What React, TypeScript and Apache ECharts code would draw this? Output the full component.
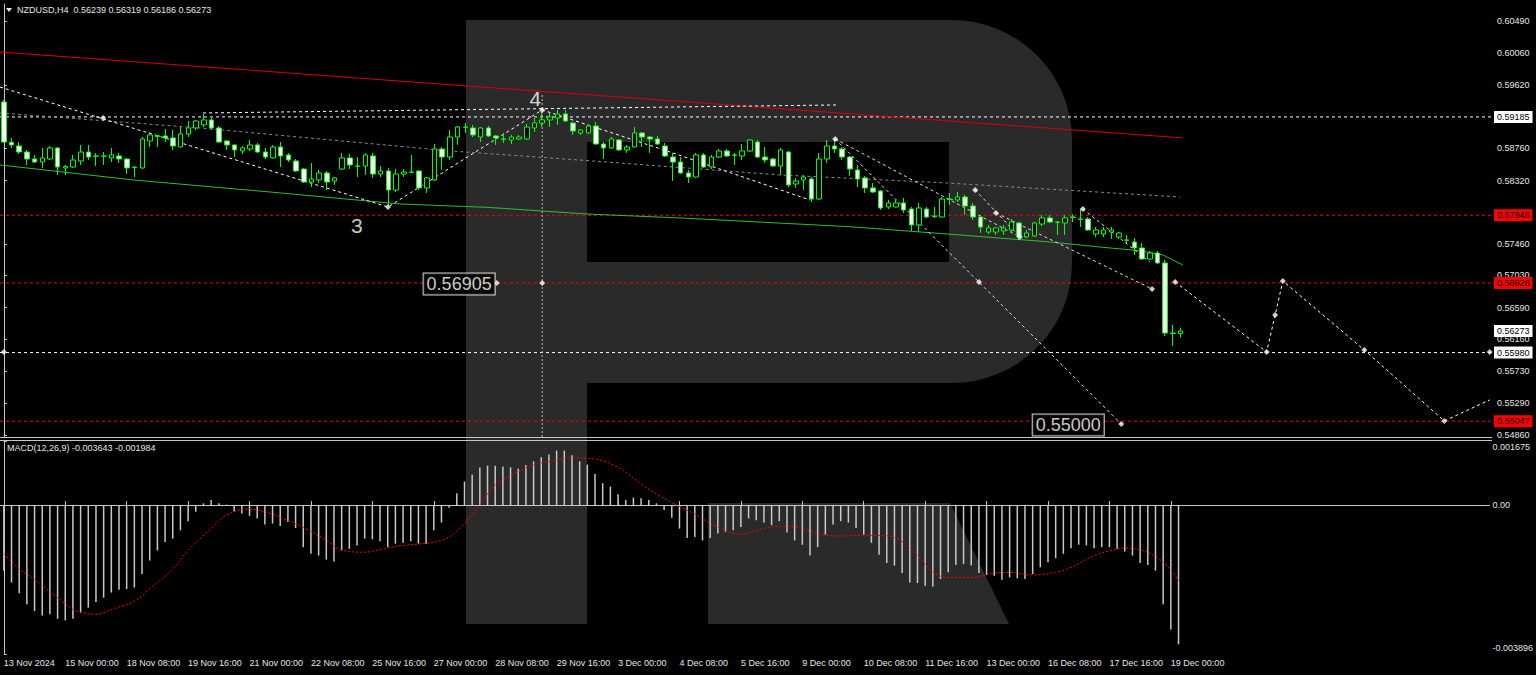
import React, { useEffect, useRef } from 'react';
import * as echarts from 'echarts';

// ---- Candles (NZDUSD H4), index 0 = 13 Nov 2024 16:00 ----
const opens = [0.59388,0.58840,0.58790,0.58708,0.58613,0.58572,0.58613,0.58763,0.58491,0.58504,
0.58586,0.58708,0.58654,0.58650,0.58627,0.58654,0.58613,0.58504,0.58491,0.58858,
0.58930,0.58926,0.58899,0.58776,0.58953,0.59035,0.59076,0.59144,0.59035,0.58858,
0.58804,0.58722,0.58749,0.58804,0.58708,0.58627,0.58776,0.58668,0.58586,0.58477,
0.58300,0.58328,0.58423,0.58314,0.58477,0.58627,0.58518,0.58518,0.58654,0.58409,
0.58450,0.58192,0.58409,0.58436,0.58450,0.58219,0.58328,0.58749,0.58640,0.58912,
0.59048,0.59035,0.58912,0.59035,0.58926,0.58885,0.58872,0.58885,0.58885,0.59035,
0.59103,0.59144,0.59171,0.59225,0.59103,0.58967,0.58967,0.59062,0.58817,0.58763,
0.58872,0.58736,0.58776,0.58967,0.58912,0.58885,0.58790,0.58640,0.58572,0.58423,
0.58368,0.58668,0.58504,0.58640,0.58722,0.58668,0.58654,0.58722,0.58844,0.58640,
0.58613,0.58518,0.58708,0.58273,0.58328,0.58341,0.58069,0.58613,0.58790,0.58749,
0.58640,0.58464,0.58355,0.58219,0.58178,0.57960,0.57960,0.58015,0.57933,0.57716,
0.57933,0.57838,0.57824,0.58069,0.58056,0.58096,0.57974,0.57824,0.57620,0.57620,
0.57634,0.57648,0.57743,0.57552,0.57566,0.57729,0.57811,0.57756,0.57743,0.57824,
0.57797,0.57797,0.57593,0.57593,0.57620,0.57552,0.57512,0.57484,0.57403,0.57253,
0.57335,0.57199,0.56245,0.56239];
const closes = [0.58844,0.58804,0.58708,0.58613,0.58572,0.58627,0.58763,0.58504,0.58510,0.58600,
0.58708,0.58640,0.58650,0.58654,0.58668,0.58613,0.58491,0.58496,0.58885,0.58940,
0.58920,0.58899,0.58790,0.58953,0.59035,0.59130,0.59144,0.59035,0.58844,0.58804,
0.58736,0.58763,0.58804,0.58708,0.58640,0.58776,0.58654,0.58600,0.58450,0.58300,
0.58341,0.58423,0.58300,0.58355,0.58627,0.58532,0.58515,0.58668,0.58409,0.58450,
0.58192,0.58409,0.58436,0.58432,0.58219,0.58355,0.58749,0.58640,0.58912,0.59048,
0.59045,0.58940,0.59035,0.58926,0.58899,0.58880,0.58912,0.58912,0.59048,0.59103,
0.59144,0.59184,0.59225,0.59130,0.58994,0.59008,0.59062,0.58817,0.58763,0.58885,
0.58736,0.58776,0.58967,0.58912,0.58885,0.58817,0.58654,0.58572,0.58423,0.58368,
0.58668,0.58504,0.58640,0.58722,0.58654,0.58664,0.58722,0.58872,0.58640,0.58600,
0.58518,0.58736,0.58260,0.58314,0.58368,0.58069,0.58613,0.58790,0.58749,0.58640,
0.58477,0.58341,0.58219,0.58164,0.57947,0.58015,0.58015,0.57920,0.57716,0.57947,
0.57824,0.57831,0.58069,0.58062,0.58096,0.57974,0.57824,0.57688,0.57675,0.57675,
0.57675,0.57756,0.57552,0.57607,0.57743,0.57811,0.57756,0.57752,0.57811,0.57820,
0.57792,0.57648,0.57648,0.57648,0.57648,0.57607,0.57508,0.57403,0.57253,0.57335,
0.57199,0.56245,0.56239,0.56273];
const lows = [0.58831,0.58763,0.58681,0.58532,0.58559,0.58491,0.58600,0.58396,0.58396,0.58491,
0.58532,0.58600,0.58518,0.58532,0.58572,0.58559,0.58409,0.58368,0.58477,0.58776,
0.58776,0.58844,0.58736,0.58770,0.58912,0.59008,0.59048,0.59008,0.58831,0.58736,
0.58640,0.58681,0.58722,0.58695,0.58613,0.58620,0.58504,0.58572,0.58436,0.58287,
0.58232,0.58287,0.58192,0.58260,0.58464,0.58477,0.58368,0.58396,0.58355,0.58368,
0.57988,0.58164,0.58368,0.58423,0.58192,0.58151,0.58314,0.58464,0.58600,0.58804,
0.58967,0.58912,0.58844,0.58912,0.58804,0.58831,0.58817,0.58872,0.58872,0.58980,
0.59048,0.59048,0.59076,0.59116,0.58940,0.58940,0.58953,0.58804,0.58613,0.58749,
0.58722,0.58695,0.58772,0.58776,0.58695,0.58804,0.58640,0.58314,0.58409,0.58287,
0.58355,0.58491,0.58477,0.58627,0.58640,0.58532,0.58600,0.58708,0.58627,0.58559,
0.58504,0.58396,0.58232,0.58219,0.58192,0.58028,0.58056,0.58559,0.58695,0.58600,
0.58382,0.58232,0.58151,0.58151,0.57920,0.57933,0.57953,0.57879,0.57634,0.57620,
0.57811,0.57811,0.57818,0.57988,0.58028,0.57852,0.57784,0.57607,0.57593,0.57580,
0.57580,0.57607,0.57512,0.57539,0.57552,0.57702,0.57743,0.57580,0.57580,0.57756,
0.57688,0.57634,0.57552,0.57552,0.57525,0.57525,0.57471,0.57308,0.57240,0.57240,
0.57185,0.56206,0.56070,0.56186];
const highs = [0.59416,0.58899,0.58844,0.58736,0.58668,0.58763,0.58790,0.58776,0.58532,0.58668,
0.58804,0.58804,0.58695,0.58708,0.58763,0.58695,0.58627,0.58510,0.58912,0.58980,
0.58940,0.59021,0.59008,0.59048,0.59130,0.59144,0.59225,0.59171,0.59062,0.58872,
0.58810,0.58790,0.58872,0.58831,0.58763,0.58804,0.58844,0.58695,0.58613,0.58491,
0.58559,0.58464,0.58450,0.58368,0.58695,0.58681,0.58640,0.58695,0.58695,0.58518,
0.58491,0.58477,0.58477,0.58668,0.58464,0.58368,0.58817,0.58776,0.59008,0.59062,
0.59103,0.59076,0.59048,0.59062,0.58940,0.58967,0.58940,0.58940,0.59089,0.59171,
0.59252,0.59239,0.59280,0.59280,0.59116,0.59021,0.59076,0.59116,0.58844,0.58912,
0.58885,0.58804,0.59048,0.58980,0.58926,0.58926,0.58831,0.58695,0.58640,0.58464,
0.58695,0.58695,0.58668,0.58749,0.58749,0.58695,0.58817,0.58885,0.58872,0.58776,
0.58627,0.58763,0.58722,0.58355,0.58396,0.58368,0.58695,0.58872,0.58885,0.58776,
0.58654,0.58532,0.58382,0.58287,0.58192,0.58056,0.58056,0.58083,0.57960,0.58015,
0.57960,0.57960,0.58096,0.58151,0.58164,0.58124,0.58015,0.57852,0.57716,0.57688,
0.57716,0.57797,0.57756,0.57648,0.57756,0.57852,0.57852,0.57770,0.57852,0.57865,
0.57933,0.57824,0.57688,0.57688,0.57688,0.57620,0.57580,0.57539,0.57471,0.57362,
0.57362,0.57240,0.56356,0.56319];

// ---- MACD(12,26,9) ----
const macdHist = [-0.001716,-0.002025,-0.002305,-0.002595,-0.002772,-0.002886,-0.002859,-0.002975,-0.003018,-0.002975,
-0.002817,-0.002685,-0.002534,-0.002421,-0.002289,-0.002218,-0.002199,-0.002157,-0.001803,-0.001452,
-0.001188,-0.000969,-0.000879,-0.000660,-0.000422,-0.000177,0.000045,0.000132,0.000045,0.000010,
-0.000177,-0.000219,-0.000282,-0.000351,-0.000510,-0.000483,-0.000546,-0.000441,-0.000599,-0.001101,
-0.001275,-0.001320,-0.001426,-0.001478,-0.001188,-0.001143,-0.001056,-0.000879,-0.000898,-0.000950,
-0.001101,-0.001011,-0.000985,-0.000950,-0.001011,-0.001011,-0.000660,-0.000457,-0.000071,0.000309,
0.000615,0.000792,0.000985,0.001030,0.001030,0.001011,0.000985,0.000950,0.001038,0.001143,
0.001249,0.001320,0.001426,0.001426,0.001302,0.001143,0.001056,0.000810,0.000573,0.000483,
0.000282,0.000132,0.000193,0.000177,0.000132,0.000045,-0.000132,-0.000335,-0.000615,-0.000863,
-0.000837,-0.000924,-0.000863,-0.000747,-0.000705,-0.000660,-0.000573,-0.000351,-0.000396,-0.000457,
-0.000528,-0.000422,-0.000721,-0.000924,-0.001038,-0.001320,-0.001101,-0.000774,-0.000510,-0.000422,
-0.000457,-0.000599,-0.000774,-0.000985,-0.001302,-0.001513,-0.001584,-0.001777,-0.002025,-0.002041,
-0.002112,-0.002130,-0.001935,-0.001761,-0.001566,-0.001539,-0.001584,-0.001777,-0.001830,-0.001848,
-0.001954,-0.001893,-0.001919,-0.001935,-0.001803,-0.001629,-0.001497,-0.001391,-0.001275,-0.001127,
-0.001038,-0.001056,-0.001127,-0.001101,-0.001101,-0.001143,-0.001214,-0.001320,-0.001513,-0.001566,
-0.001716,-0.002595,-0.003255,-0.003643];
const signalIdx = [0,2,4,7,9,10,12,14,17,19,22,24,27,29,32,33,35,37,39,42,44,47,49,52,54,57,59,62,64,67,69,72,74,77,80,83,85,88,90,93,96,98,101,103,105,107,109,112,115,117,119,121,123,126,129,131,134,137,139,142,144,146,148,150,152,153];
const signalVal = [-0.001275,-0.001671,-0.001954,-0.002421,-0.002727,-0.002798,-0.002859,-0.002732,-0.002508,-0.002191,
-0.001671,-0.001188,-0.000615,-0.000264,-0.000106,-0.000132,-0.000238,-0.000409,-0.000581,-0.000924,
-0.001175,-0.001233,-0.001167,-0.001056,-0.001022,-0.000924,-0.000686,0,0.000528,0.000871,
0.001048,0.001175,0.001233,0.001201,0.000985,0.000554,0.000290,-0.000040,-0.000238,-0.000581,
-0.000766,-0.000660,-0.000554,-0.000568,-0.000673,-0.000792,-0.000810,-0.000792,-0.000805,-0.000950,
-0.001320,-0.001742,-0.001893,-0.001893,-0.001777,-0.001761,-0.001830,-0.001756,-0.001629,-0.001320,
-0.001201,-0.001127,-0.001175,-0.001346,-0.001690,-0.001984];

// ---- Axis labels ----
const dateLabels = ['13 Nov 2024','15 Nov 00:00','18 Nov 08:00','19 Nov 16:00','21 Nov 00:00','22 Nov 08:00','25 Nov 16:00','27 Nov 00:00','28 Nov 08:00','29 Nov 16:00','3 Dec 00:00','4 Dec 08:00','5 Dec 16:00','9 Dec 00:00','10 Dec 08:00','11 Dec 16:00','13 Dec 00:00','16 Dec 08:00','17 Dec 16:00','19 Dec 00:00'];
const labelStep = 8;
const slotCount = 194;
const priceTicks = [0.60490,0.60060,0.59620,0.58760,0.58320,0.57460,0.57030,0.56590,0.56160,0.55730,0.55290,0.54860];
const macdTicks = [0.001675, 0, -0.003896];
const priceMin = 0.54832;
const priceMax = 0.60721;
const macdMin = -0.003896;
const macdMax = 0.001675;

// ---- Levels ----
const whiteLevels = [0.59185, 0.55980];
const redLevels = [0.57848, 0.56928, 0.55047];
const lastPrice = 0.56273;

// ---- Drawn objects (bar index, price) ----
const redTrend = [[-0.5, 0.60068], [153.3, 0.58899]];
const greenMA = [[-0.5,0.58532],[16.8,0.58328],[34.2,0.58168],[51.5,0.58001],[62.8,0.57956],[75.8,0.57865],[88.8,0.57807],[97.4,0.57760],[110.0,0.57692],[124.3,0.57580],[135.6,0.57488],[144.2,0.57399],[147.7,0.57366],[150.7,0.57308],[153.3,0.57172]];
const grayChannel = [[-0.5,0.59239],[25.5,0.59035],[58,0.58723],[76.6,0.58586],[100.9,0.58396],[122.6,0.58287],[152.9,0.58096]];
const upperDashed = [[25.9,0.59239],[108.3,0.59348]];
const waveA = [[-0.5,0.59592],[49.95,0.57960],[70,0.59280],[87,0.58695],[104.8,0.58056]];
const waveB = [[108.1,0.58885],[145.3,0.55009]];
const waveC = [[108.1,0.58885],[132.1,0.57552]];
const waveD = [[126.3,0.58192],[132.1,0.57552]];
const waveE = [[129.0,0.57879],[149.3,0.56845]];
const waveF = [[140.3,0.57933],[149.0,0.57212]];
const forecast = [[152.3,0.56940],[164.2,0.55988],[165.3,0.56491],[166.3,0.56954],[176.9,0.56015],[187.3,0.55050],[193.2,0.55336]];
const vLine = [[70,0.59483],[70,0.54832]];
const markers = [[12.9,0.59171],[49.95,0.57960],[70,0.59280],[108.1,0.58885],[126.3,0.58192],[129.0,0.57879],[132.1,0.57552],[140.3,0.57933],[126.8,0.56940],[149.3,0.56845],[152.3,0.56940],[145.3,0.55009],[164.2,0.55988],[165.3,0.56491],[166.3,0.56954],[176.9,0.56015],[187.3,0.55050],[193.2,0.55988],[0,0.55988],[64.1,0.56926],[70,0.56926]];
const waveLabels = [{ text: '4', at: [69.1, 0.59429] }, { text: '3', at: [45.9, 0.57702] }];
const boxLabels = [{ text: '0.56905', at: [59.2, 0.56913] }, { text: '0.55000', at: [138.4, 0.54996] }];

const FONT = 'Liberation Sans, Arial, sans-serif';
const FG = '#e6e6e6';
const AX = '#c8c8c8';

function overlay(data: number[][], color: string, type: any, width = 1) {
  return {
    type: 'line', xAxisIndex: 2, yAxisIndex: 0, data, showSymbol: false, silent: true,
    lineStyle: { color, type, width }, z: 4,
  };
}

function levelSeries(v: number, lineColor: string | null, tagColor: string) {
  return {
    type: 'line', xAxisIndex: 2, yAxisIndex: 0, showSymbol: false, silent: true, z: 3,
    data: [[-0.5, v], [slotCount - 0.5, v]],
    lineStyle: lineColor ? { color: lineColor, type: [3, 3], width: 1 } : { width: 0, opacity: 0 },
    endLabel: {
      show: true, distance: 2, formatter: v.toFixed(5),
      backgroundColor: tagColor, color: '#000', fontSize: 9, fontFamily: FONT, padding: [2, 3, 1, 3],
    },
  };
}

export default function App() {
  const ref = useRef<HTMLDivElement>(null);
  useEffect(() => {
    const chart = echarts.init(ref.current!, null, { renderer: 'svg' });
    const cats = Array.from({ length: slotCount }, (_, i) =>
      i % labelStep === 0 && i / labelStep < dateLabels.length ? dateLabels[i / labelStep] : '');
    const lastLabelIdx = (dateLabels.length - 1) * labelStep;
    const showIdx = (i: number) => i % labelStep === 0 && i <= lastLabelIdx;
    const candleData = opens.map((o, i) => [o, closes[i], lows[i], highs[i]]);

    const option: any = {
      animation: false,
      backgroundColor: '#000000',
      grid: [
        { left: 0, top: 4, width: 1492, height: 433 },
        { left: 0, top: 441, width: 1492, height: 213 },
      ],
      xAxis: [
        { type: 'category', gridIndex: 0, data: cats, show: false, boundaryGap: true },
        {
          type: 'category', gridIndex: 1, data: cats, boundaryGap: true,
          axisLine: { show: true, lineStyle: { color: AX } },
          axisTick: { show: true, inside: true, length: 4, alignWithLabel: true, interval: showIdx, lineStyle: { color: AX } },
          axisLabel: { interval: showIdx, align: 'left', color: FG, fontSize: 9, fontFamily: FONT, margin: 4 },
          splitLine: { show: false },
        },
        { type: 'value', gridIndex: 0, min: -0.5, max: slotCount - 0.5, show: false },
        { type: 'value', gridIndex: 1, min: -0.5, max: slotCount - 0.5, show: false },
      ],
      yAxis: [
        {
          type: 'value', gridIndex: 0, position: 'right', min: priceMin, max: priceMax,
          splitLine: { show: false },
          axisLine: { show: true, lineStyle: { color: AX } },
          axisTick: { show: true, length: 3, customValues: priceTicks, lineStyle: { color: AX } },
          axisLabel: { customValues: priceTicks, formatter: (v: number) => v.toFixed(5), color: FG, fontSize: 9, fontFamily: FONT, margin: 5 },
        },
        {
          type: 'value', gridIndex: 1, position: 'right', min: macdMin, max: macdMax,
          splitLine: { show: false },
          axisLine: { show: true, lineStyle: { color: AX } },
          axisTick: { show: true, length: 3, customValues: macdTicks, lineStyle: { color: AX } },
          axisLabel: {
            customValues: macdTicks, color: FG, fontSize: 9, fontFamily: FONT, margin: 3,
            formatter: (v: number) => v === 0 ? '0.00' : (v > 0 ? '{t|' + v.toFixed(6) + '}' : '{b|' + v.toFixed(6) + '}'),
            rich: {
              t: { color: FG, fontSize: 9, fontFamily: FONT, padding: [12, 0, 0, 0] },
              b: { color: FG, fontSize: 9, fontFamily: FONT, padding: [0, 0, 12, 0] },
            },
          },
        },
      ],
      graphic: {
        elements: [
          { type: 'rect', z: 0, silent: true, shape: { x: 466, y: 20, width: 121, height: 604 }, style: { fill: '#2a2a2a' } },
          { type: 'rect', z: 0, silent: true, shape: { x: 587, y: 20, width: 485, height: 363, r: [0, 120, 120, 0] }, style: { fill: '#2a2a2a' } },
          { type: 'rect', z: 1, silent: true, shape: { x: 587, y: 142, width: 362, height: 120 }, style: { fill: '#000000' } },
          { type: 'polygon', z: 0, silent: true, shape: { points: [[708, 503], [950, 503], [1009, 624], [708, 624]] }, style: { fill: '#2a2a2a' } },
          { type: 'line', z: 10, silent: true, shape: { x1: 0, y1: 437.5, x2: 1492, y2: 437.5 }, style: { stroke: AX, lineWidth: 1 } },
          { type: 'line', z: 10, silent: true, shape: { x1: 0, y1: 440.5, x2: 1492, y2: 440.5 }, style: { stroke: AX, lineWidth: 1 } },
          { type: 'polygon', z: 10, silent: true, shape: { points: [[6, 8], [12, 8], [9, 12]] }, style: { fill: FG } },
          { type: 'text', z: 10, silent: true, x: 17, y: 10, style: { text: 'NZDUSD,H4  0.56239 0.56319 0.56186 0.56273', fill: FG, fontSize: 9, fontFamily: FONT, verticalAlign: 'middle' } },
          { type: 'text', z: 10, silent: true, x: 7, y: 448, style: { text: 'MACD(12,26,9) -0.003643 -0.001984', fill: FG, fontSize: 9, fontFamily: FONT, verticalAlign: 'middle' } },
        ],
      },
      series: [
        {
          type: 'candlestick', xAxisIndex: 0, yAxisIndex: 0, data: candleData, barWidth: 5, z: 5,
          itemStyle: { color: '#000000', color0: '#ffffff', borderColor: '#00ff00', borderColor0: '#00ff00', borderColorDoji: '#00ff00', borderWidth: 1 },
        },
        ...whiteLevels.map((v) => levelSeries(v, '#ffffff', '#ffffff')),
        ...redLevels.map((v) => levelSeries(v, '#ff0000', '#ff0000')),
        levelSeries(lastPrice, null, '#ffffff'),
        overlay(redTrend, '#dd0000', 'solid'),
        overlay(greenMA, '#2fbf2f', 'solid'),
        overlay(grayChannel, '#8a8a8a', [3, 3]),
        overlay(upperDashed, '#ffffff', [3, 3]),
        overlay(waveA, '#ffffff', [3, 3]),
        overlay(waveB, '#dddddd', [3, 3]),
        overlay(waveC, '#dddddd', [3, 3]),
        overlay(waveD, '#dddddd', [3, 3]),
        overlay(waveE, '#dddddd', [3, 3]),
        overlay(waveF, '#dddddd', [3, 3]),
        overlay(forecast, '#ffffff', [3, 3]),
        overlay(vLine, '#bbbbbb', [2, 2]),
        {
          type: 'scatter', xAxisIndex: 2, yAxisIndex: 0, data: markers, symbol: 'diamond', symbolSize: 6, silent: true, z: 6,
          itemStyle: { color: '#ffffff' },
        },
        {
          type: 'scatter', xAxisIndex: 2, yAxisIndex: 0, symbolSize: 0, silent: true, z: 7,
          data: waveLabels.map((w) => ({ value: w.at, label: { formatter: w.text } })),
          label: { show: true, position: 'inside', color: '#ffffff', fontSize: 21, fontFamily: FONT },
        },
        {
          type: 'scatter', xAxisIndex: 2, yAxisIndex: 0, symbolSize: 0, silent: true, z: 7,
          data: boxLabels.map((w) => ({ value: w.at, label: { formatter: w.text } })),
          label: { show: true, position: 'inside', color: '#ffffff', fontSize: 18, fontFamily: FONT, backgroundColor: '#000000', borderColor: '#ffffff', borderWidth: 1, padding: [2, 3, 1, 3] },
        },
        {
          type: 'bar', xAxisIndex: 1, yAxisIndex: 1, data: macdHist, barWidth: 1.5, silent: true,
          itemStyle: { color: '#c8c8c8' },
        },
        {
          type: 'line', xAxisIndex: 3, yAxisIndex: 1, showSymbol: false, silent: true, smooth: 0.4,
          data: signalIdx.map((x, i) => [x, signalVal[i]]),
          lineStyle: { color: '#ff0000', type: [2, 2], width: 1 }, z: 4,
        },
      ],
    };
    chart.setOption(option);
    return () => chart.dispose();
  }, []);
  return <div ref={ref} style={{ position: 'fixed', left: 0, top: 0, width: 1536, height: 675, background: '#000' }} />;
}
